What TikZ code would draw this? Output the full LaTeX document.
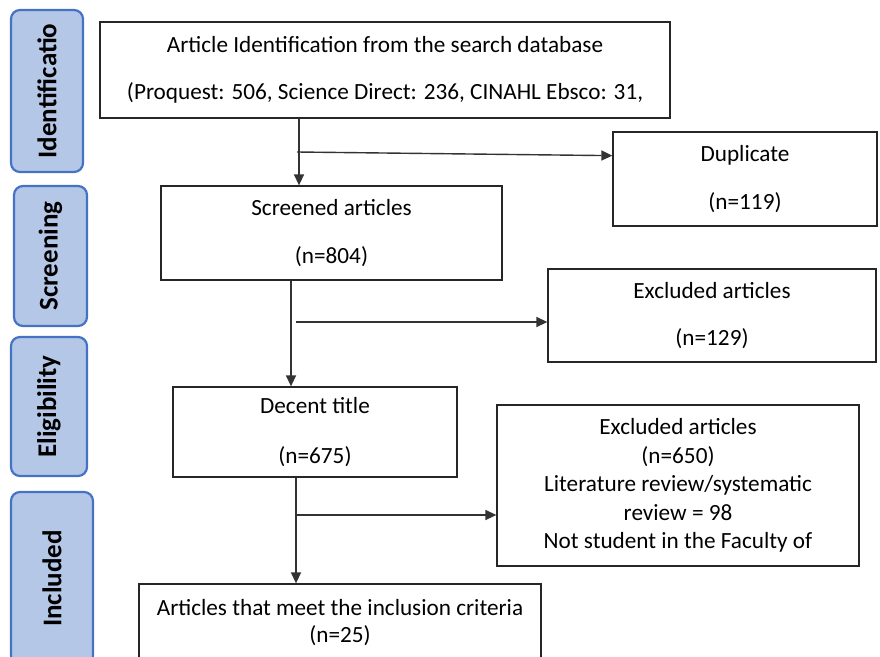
\documentclass[tikz,border=0pt]{standalone}
\usepackage{fontspec}
\setmainfont{Carlito}
\usetikzlibrary{arrows.meta,calc}
\definecolor{sidefill}{HTML}{B4C7E7}
\definecolor{sideline}{HTML}{4472C4}
\begin{document}
\begin{tikzpicture}[x=1pt,y=-1pt,
  box/.style={draw=black!85, line width=1.3pt, fill=white, inner sep=0pt, align=center, font=\fontsize{23.2}{28.5}\selectfont},
  side/.style={draw=sideline, fill=sidefill, line width=2.2pt, rounded corners=9pt, inner sep=0pt, rotate=90, font=\bfseries\fontsize{27}{30}\selectfont},
  arr/.style={draw=black!80, line width=1.4pt, -{Triangle[length=11pt,width=10pt]}},
]
\useasboundingbox (0,0) rectangle (880,656);
% side labels
\node[side, minimum width=162pt, minimum height=72pt] (sidA) at (47,91) {Identificatio};
\node[side, minimum width=140pt, minimum height=73pt] (sidB) at (50.5,256) {Screening};
\node[side, minimum width=139pt, minimum height=76pt] (sidC) at (49,406.5) {Eligibility};
\node[side, minimum width=173pt, minimum height=82pt] (sidD) at (52,578.5) {Included};
% boxes
\node[box, minimum width=570pt, minimum height=96pt] (top) at (385,70) {Article Identification from the search database\\[18.5pt](Proquest: 506, Science Direct: 236, CINAHL Ebsco: 31,};
\node[box, minimum width=264pt, minimum height=94pt] (dup) at (745,179) {Duplicate\\[20pt](n=119)};
\node[box, minimum width=341pt, minimum height=94pt] (scrb) at (331.5,233) {Screened articles\\[20pt](n=804)};
\node[box, minimum width=328pt, minimum height=93pt] (exa) at (712,315.5) {Excluded articles\\[19pt](n=129)};
\node[box, minimum width=284pt, minimum height=90pt] (dec) at (315,432) {Decent title\\[21pt](n=675)};
\node[box, minimum width=362pt, minimum height=161pt] (exb) at (678,485.5) {Excluded articles\\(n=650)\\Literature review/systematic\\review = 98\\Not student in the Faculty of};
\node[box, minimum width=402pt, minimum height=78pt] (fin) at (340,623) {Articles that meet the inclusion criteria\\[-1.5pt](n=25)};
% connectors
\coordinate (va) at (299,0);
\coordinate (vb) at (291,0);
\coordinate (vc) at (296,0);
\coordinate (ba) at (297,152);
\coordinate (bb) at (296,322);
\coordinate (bc) at (296,515);
\draw[arr] (top.south -| va) -- (scrb.north -| va);
\draw[arr] (ba) -- ($(dup.north west)!0.255!(dup.south west)$);
\draw[arr] (scrb.south -| vb) -- (dec.north -| vb);
\draw[arr] (bb) -- (exa.west |- bb);
\draw[arr] (dec.south -| vc) -- (fin.north -| vc);
\draw[arr] (bc) -- (exb.west |- bc);
\end{tikzpicture}
\end{document}
